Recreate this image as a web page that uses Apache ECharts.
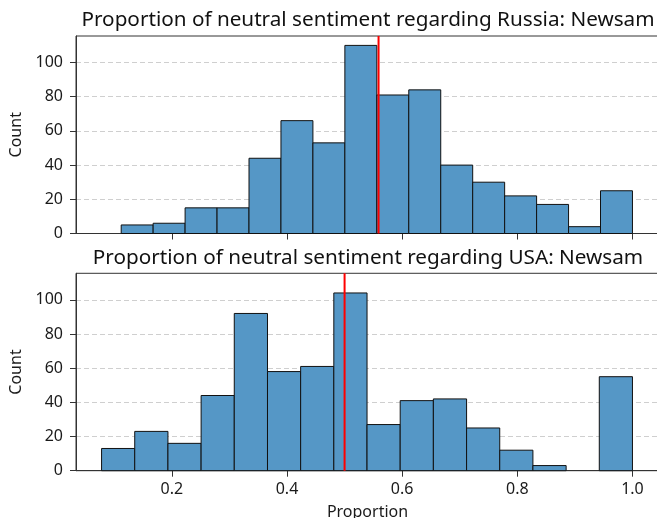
<!DOCTYPE html>
<html><head><meta charset="utf-8">
<script src="https://cdn.jsdelivr.net/npm/echarts@6/dist/echarts.min.js"></script>
<style>html,body{margin:0;padding:0;background:#fff}#c{width:657px;height:518px}</style>
</head><body><div id="c"></div>
<script>
const russiaEdges = [0.112, 0.1675, 0.223, 0.2785, 0.334, 0.3895, 0.445, 0.5005, 0.556, 0.6115, 0.667, 0.7225, 0.778, 0.8335, 0.889, 0.9445, 1.0];
const russiaCounts = [5, 6, 15, 15, 44, 66, 53, 110, 81, 84, 40, 30, 22, 17, 4, 25];
const usaEdges = [0.0779, 0.1355, 0.1932, 0.2508, 0.3084, 0.3661, 0.4237, 0.4813, 0.539, 0.5966, 0.6542, 0.7119, 0.7695, 0.8271, 0.8848, 0.9424, 1.0];
const usaCounts = [13, 23, 16, 44, 92, 58, 61, 104, 27, 41, 42, 25, 12, 3, 0, 55];
const russiaMarker = 0.559;
const usaMarker = 0.5;
const xTicks = [0.2, 0.4, 0.6, 0.8, 1.0];
const yTicks = [0, 20, 40, 60, 80, 100];
const titles = ['Proportion of neutral sentiment regarding Russia: Newsam', 'Proportion of neutral sentiment regarding USA: Newsam'];
const xLabel = 'Proportion';
const yLabel = 'Count';
const xMin = 0.0335, xMax = 1.0461, yMax = 115.5;

const FONT = 'Noto Sans';
const chart = echarts.init(document.getElementById('c'), null, {renderer: 'canvas'});

function bins(edges, counts) {
  return counts.map((c, i) => [edges[i], edges[i + 1], c]);
}
function renderHist(params, api) {
  if (api.value(2) <= 0) return null;
  const p0 = api.coord([api.value(0), 0]);
  const p1 = api.coord([api.value(1), api.value(2)]);
  return {
    type: 'rect',
    shape: {x: p0[0], y: p1[1], width: p1[0] - p0[0], height: p0[1] - p1[1]},
    style: {fill: '#5597c6', stroke: '#111', lineWidth: 1}
  };
}
const grids = [
  {left: 76, width: 583, top: 36, height: 197.5, outerBoundsMode: 'none', containLabel: false, show: true, borderColor: '#333', borderWidth: 1, backgroundColor: 'transparent'},
  {left: 76, width: 583, top: 273.3, height: 197.4, outerBoundsMode: 'none', containLabel: false, show: true, borderColor: '#333', borderWidth: 1, backgroundColor: 'transparent'}
];
function xAxis(i) {
  return {
    type: 'value', gridIndex: i, min: xMin, max: xMax,
    axisLine: {show: true, onZero: false, lineStyle: {color: '#333', width: 1}},
    axisTick: {show: true, length: 6, inside: false, customValues: xTicks, lineStyle: {color: '#333'}},
    axisLabel: {show: i === 1, customValues: xTicks, margin: 11, color: '#1a1a1a', fontFamily: FONT, fontSize: 16,
      formatter: v => v.toFixed(1)},
    splitLine: {show: false},
    name: i === 1 ? xLabel : '', nameLocation: 'middle', nameGap: 34,
    nameTextStyle: {color: '#1a1a1a', fontFamily: FONT, fontSize: 16}
  };
}
function yAxis(i) {
  return {
    type: 'value', gridIndex: i, min: 0, max: yMax, interval: 20,
    axisLine: {show: true, lineStyle: {color: '#333', width: 1}},
    axisTick: {show: true, length: 6, inside: false, customValues: yTicks, lineStyle: {color: '#333'}},
    axisLabel: {customValues: yTicks, margin: 13, color: '#1a1a1a', fontFamily: FONT, fontSize: 16},
    splitLine: {show: true, lineStyle: {color: '#cfcfcf', type: [5, 3], width: 1}},
    name: yLabel, nameLocation: 'middle', nameGap: 50, nameRotate: 90,
    nameTextStyle: {color: '#1a1a1a', fontFamily: FONT, fontSize: 16}
  };
}
const option = {
  animation: false,
  backgroundColor: '#fff',
  title: titles.map((t, i) => ({
    text: t, left: 363, textAlign: 'center', top: i === 0 ? 5 : 243,
    textStyle: {fontFamily: FONT, fontSize: 20.7, fontWeight: 'normal', color: '#111'}
  })),
  grid: grids,
  xAxis: [xAxis(0), xAxis(1)],
  yAxis: [yAxis(0), yAxis(1)],
  series: [
    {type: 'custom', xAxisIndex: 0, yAxisIndex: 0, renderItem: renderHist, data: bins(russiaEdges, russiaCounts), encode: {x: [0, 1], y: 2}, z: 2},
    {type: 'custom', xAxisIndex: 1, yAxisIndex: 1, renderItem: renderHist, data: bins(usaEdges, usaCounts), encode: {x: [0, 1], y: 2}, z: 2},
    {type: 'line', xAxisIndex: 0, yAxisIndex: 0, data: [[russiaMarker, 0], [russiaMarker, yMax]], showSymbol: false, symbol: 'none', lineStyle: {color: '#ff0000', width: 2}, z: 5},
    {type: 'line', xAxisIndex: 1, yAxisIndex: 1, data: [[usaMarker, 0], [usaMarker, yMax]], showSymbol: false, symbol: 'none', lineStyle: {color: '#ff0000', width: 2}, z: 5}
  ]
};
chart.setOption(option);
</script></body></html>
